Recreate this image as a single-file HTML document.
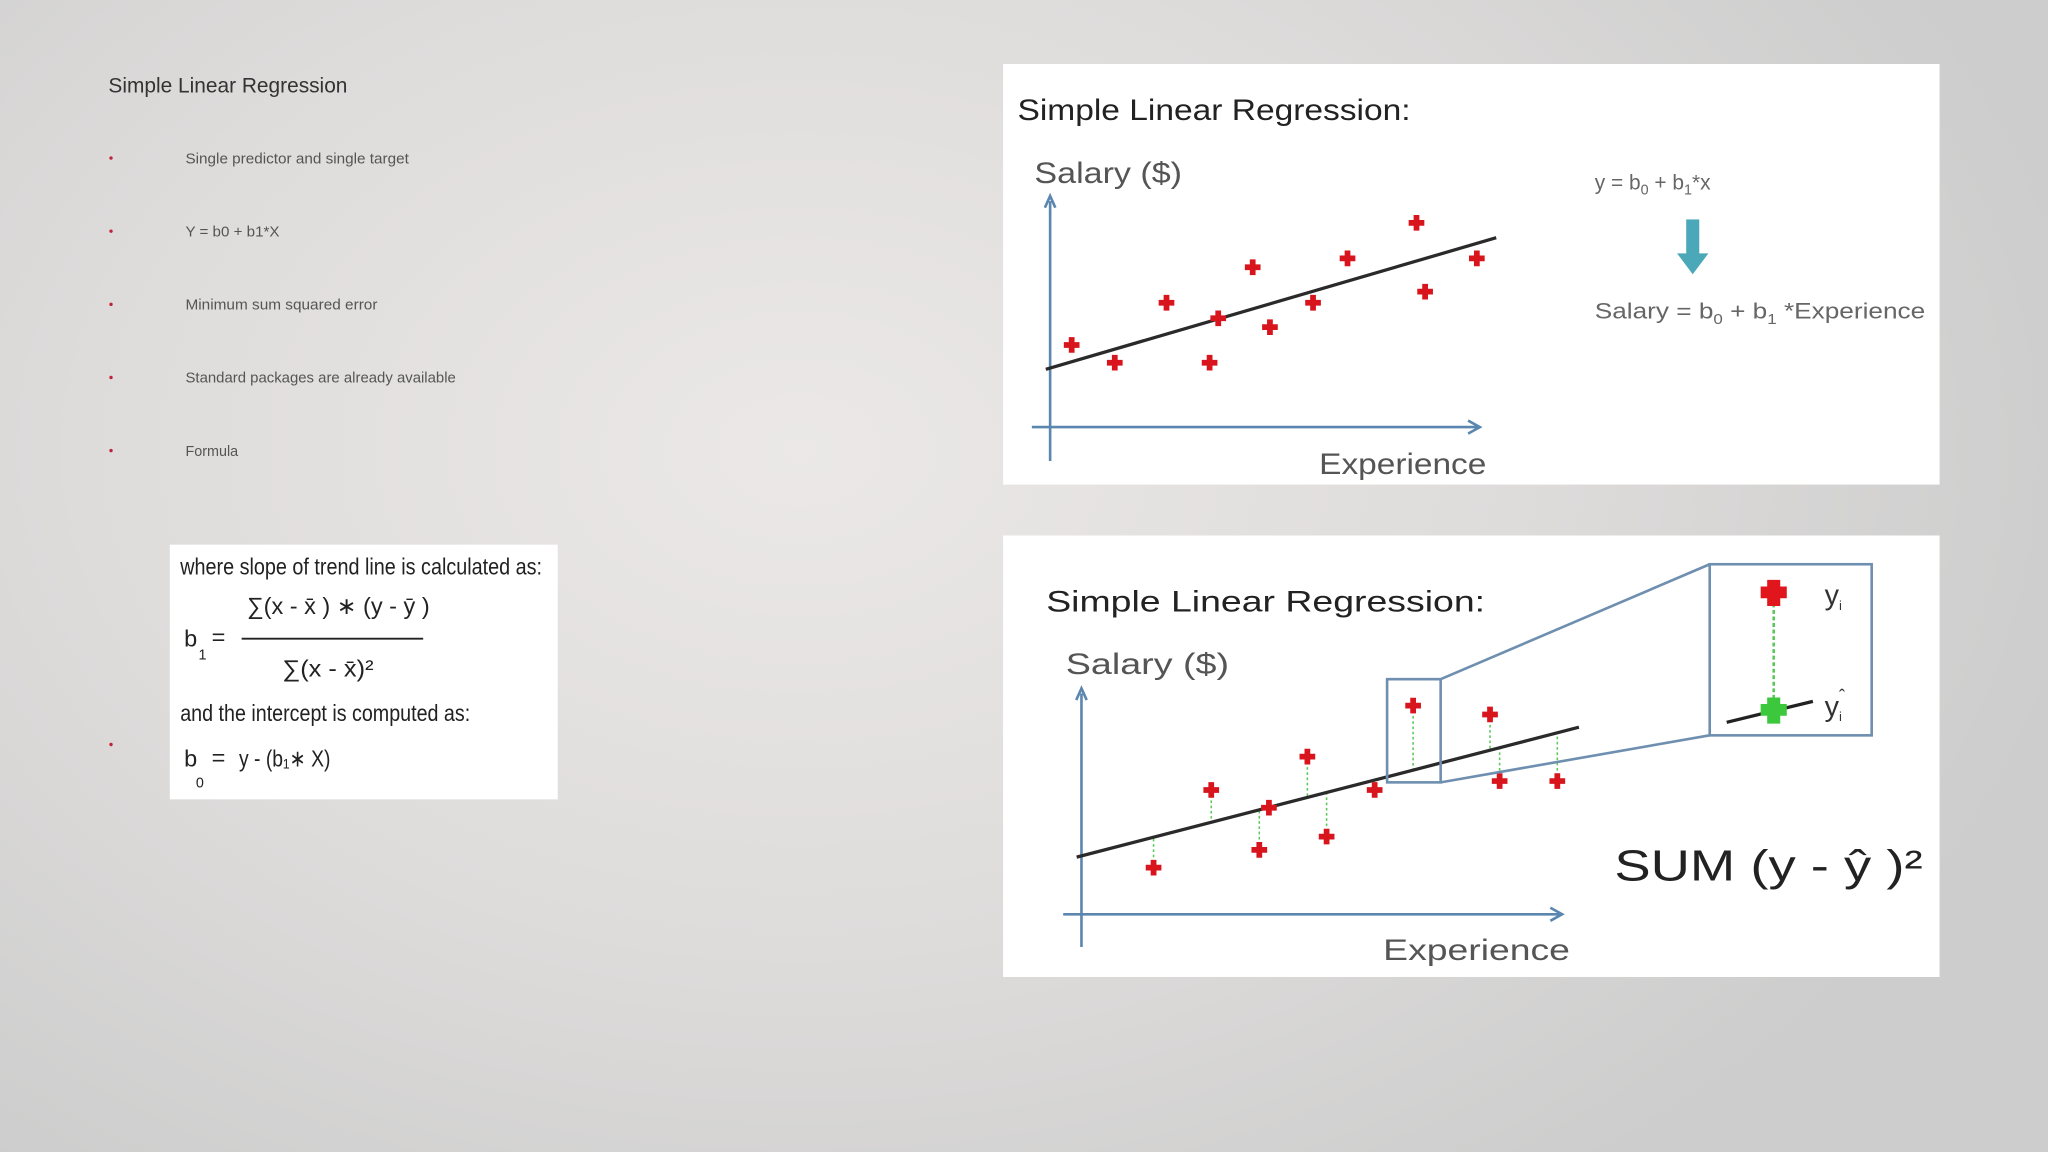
<!DOCTYPE html>
<html><head><meta charset="utf-8">
<style>
html,body{margin:0;padding:0;}
body{width:2048px;height:1152px;overflow:hidden;background:radial-gradient(ellipse 1300px 900px at 800px 450px,#ebe8e7 0%,#dedcdb 55%,#cdcdcd 100%);font-family:"Liberation Sans",sans-serif;}
svg{position:absolute;left:0;top:0;}
</style></head>
<body>
<svg id="s" width="2048" height="1152" viewBox="0 0 1568 882" xmlns="http://www.w3.org/2000/svg" font-family="Liberation Sans, sans-serif">
<text x="83" y="71" font-size="16" fill="#333" textLength="183" lengthAdjust="spacingAndGlyphs">Simple Linear Regression</text>
<g font-size="11" fill="#555">
<circle cx="85" cy="121" r="1.3" fill="#c0243a"/><text x="142" y="125" textLength="171" lengthAdjust="spacingAndGlyphs">Single predictor and single target</text>
<circle cx="85" cy="177" r="1.3" fill="#c0243a"/><text x="142" y="181" textLength="72" lengthAdjust="spacingAndGlyphs">Y = b0 + b1*X</text>
<circle cx="85" cy="233" r="1.3" fill="#c0243a"/><text x="142" y="237" textLength="147" lengthAdjust="spacingAndGlyphs">Minimum sum squared error</text>
<circle cx="85" cy="289" r="1.3" fill="#c0243a"/><text x="142" y="293" textLength="207" lengthAdjust="spacingAndGlyphs">Standard packages are already available</text>
<circle cx="85" cy="345" r="1.3" fill="#c0243a"/><text x="142" y="349">Formula</text>
<circle cx="85" cy="570" r="1.3" fill="#c0243a"/>
</g>
<g>
<rect x="130" y="417" width="297" height="195" fill="#fff"/>
<g font-family="Liberation Sans Narrow, Liberation Sans, sans-serif" fill="#222" font-size="18">
<text x="138" y="440" textLength="277" lengthAdjust="spacingAndGlyphs">where slope of trend line is calculated as:</text>
<text x="189" y="470" textLength="140" lengthAdjust="spacingAndGlyphs">∑(x - x̄ ) ∗ (y - ȳ )</text>
<text x="141" y="495">b</text><text x="152" y="505" font-size="11">1</text><text x="162" y="494">=</text>
<line x1="185" y1="489" x2="324" y2="489" stroke="#222" stroke-width="1.5"/>
<text x="216" y="518" textLength="70" lengthAdjust="spacingAndGlyphs">∑(x - x̄)²</text>
<text x="138" y="552" textLength="222" lengthAdjust="spacingAndGlyphs">and the intercept is computed as:</text>
<text x="141" y="587">b</text><text x="150" y="603" font-size="11">0</text><text x="162" y="586">=</text>
<text x="183" y="587" textLength="70" lengthAdjust="spacingAndGlyphs">y - (b₁∗ X)</text>
</g></g>
<g>
<rect x="768" y="49" width="717" height="322" fill="#fff"/>
<text x="779" y="92" font-size="23" fill="#222" textLength="301" lengthAdjust="spacingAndGlyphs">Simple Linear Regression:</text>
<text x="792" y="140" font-size="23" fill="#555" textLength="113" lengthAdjust="spacingAndGlyphs">Salary ($)</text>
<text x="1010" y="363" font-size="23" fill="#555" textLength="128" lengthAdjust="spacingAndGlyphs">Experience</text>
<text x="1221" y="145" font-size="16" fill="#666">y = b<tspan font-size="11" dy="4">0</tspan><tspan dy="-4"> + b</tspan><tspan font-size="11" dy="4">1</tspan><tspan dy="-4">*x</tspan></text>
<g><rect x="1291" y="168" width="10" height="28" fill="#4aa8b8"/><polygon points="1284,194 1308,194 1296,210" fill="#4aa8b8"/></g>
<text x="1221" y="244" font-size="17" fill="#666" textLength="253" lengthAdjust="spacingAndGlyphs">Salary = b<tspan font-size="11" dy="4">0</tspan><tspan dy="-4"> + b</tspan><tspan font-size="11" dy="4">1</tspan><tspan dy="-4">  *Experience</tspan></text>
<g id="top"></g>
</g>
<g>
<rect x="768" y="410" width="717" height="338" fill="#fff"/>
<text x="801" y="468" font-size="23" fill="#222" textLength="336" lengthAdjust="spacingAndGlyphs">Simple Linear Regression:</text>
<text x="816" y="516" font-size="23" fill="#555" textLength="125" lengthAdjust="spacingAndGlyphs">Salary ($)</text>
<text x="1059" y="735" font-size="23" fill="#555" textLength="143" lengthAdjust="spacingAndGlyphs">Experience</text>
<text x="1236" y="674" font-size="33" fill="#222" textLength="236" lengthAdjust="spacingAndGlyphs">SUM (y - ŷ )²</text>
<g id="bot"></g>
<g stroke="#6f8fb0" stroke-width="2" fill="none">
<rect x="1062" y="520" width="41" height="79"/>
<rect x="1309" y="432" width="124" height="131"/>
<line x1="1103" y1="520" x2="1309" y2="432"/><line x1="1103" y1="599" x2="1309" y2="563"/>
</g>
<g>
<line x1="1358" y1="462" x2="1358" y2="536" stroke="#5cc85c" stroke-width="2" stroke-dasharray="3,2"/>
<line x1="1322" y1="553" x2="1388" y2="537" stroke="#222" stroke-width="2.5"/>
<path d="M1353 444h10v5h5v9h-5v6h-10v-6h-5v-9h5z" fill="#e0161c"/>
<path d="M1353 534h10v5h5v9h-5v6h-10v-6h-5v-9h5z" fill="#3cc83c"/>
<text x="1397" y="463" font-size="22" fill="#333">y<tspan font-size="10" dy="4">i</tspan></text>
<text x="1397" y="548" font-size="22" fill="#333">y<tspan font-size="10" dy="4">i</tspan></text>
<text x="1408" y="538" font-size="14" fill="#333">ˆ</text>
</g>
</g>
</svg>
<script>
// Top chart data
const topExperience=[0.5,1.5,2.7,3.7,3.9,4.7,5.1,6.1,6.9,8.5,8.7,9.9];
const topSalary=[3.7,2.9,5.6,2.9,4.9,7.2,4.5,5.6,7.6,9.2,6.1,7.6];
const topB0=2.66, topB1=0.567;
// Bottom chart data
const botExperience=[1.5,2.7,3.7,3.9,4.7,5.1,6.1,6.9,8.5,8.7,9.9];
const botSalary=[2.1,5.6,2.9,4.8,7.1,3.5,5.6,9.4,9.0,6.0,6.0];
const botB0=2.63, botB1=0.56;
const NS="http://www.w3.org/2000/svg";
function mk(g,tag,attrs){const e=document.createElementNS(NS,tag);for(const k in attrs)e.setAttribute(k,attrs[k]);g.appendChild(e);return e;}
function plus(g,x,y){const p=mk(g,'path',{d:`M${x-2.2} ${y-6}h4.4v3.8h3.8v4.4h-3.8v3.8h-4.4v-3.8h-3.8v-4.4h3.8z`,fill:'#d8141c'});

}
function chart(id,ox,oy,sx,sy,xs,ys,b0,b1,axTop,axRight,axLeft,axBottom,resid){
 const g=document.getElementById(id);
 const X=v=>ox+v*sx, Y=v=>oy-v*sy;
 const ya=mk(g,'path',{d:`M${ox} ${axBottom}V${axTop+4}M${ox-4} ${axTop+9}L${ox} ${axTop}L${ox+4} ${axTop+9}`,stroke:'#5b86b0','stroke-width':2,fill:'none'});
 
 
 const xa=mk(g,'path',{d:`M${axLeft} ${oy}H${axRight-2}M${axRight-9} ${oy-5}L${axRight} ${oy}L${axRight-9} ${oy+5}`,stroke:'#5b86b0','stroke-width':2,fill:'none'});
 
 
 if(resid){xs.forEach((v,i)=>{const d=mk(g,'line',{x1:X(v),y1:Y(ys[i]),x2:X(v),y2:Y(b0+b1*v),stroke:'#5cc85c','stroke-width':1.2,'stroke-dasharray':'2,2'});
 
 });}
 const x0=-0.1,x1=10.35;
 const l=mk(g,'line',{x1:X(x0),y1:Y(b0+b1*x0),x2:X(x1),y2:Y(b0+b1*x1),stroke:'#2a2a2a','stroke-width':2.5});
 
 
 xs.forEach((v,i)=>plus(g,X(v),Y(ys[i])));
}
chart('top',804,327,33,17,topExperience,topSalary,topB0,topB1,150,1133,790,353,false);
chart('bot',828,700,36.8,17,botExperience,botSalary,botB0,botB1,527,1196,814,725,true);
</script>
</body></html>
